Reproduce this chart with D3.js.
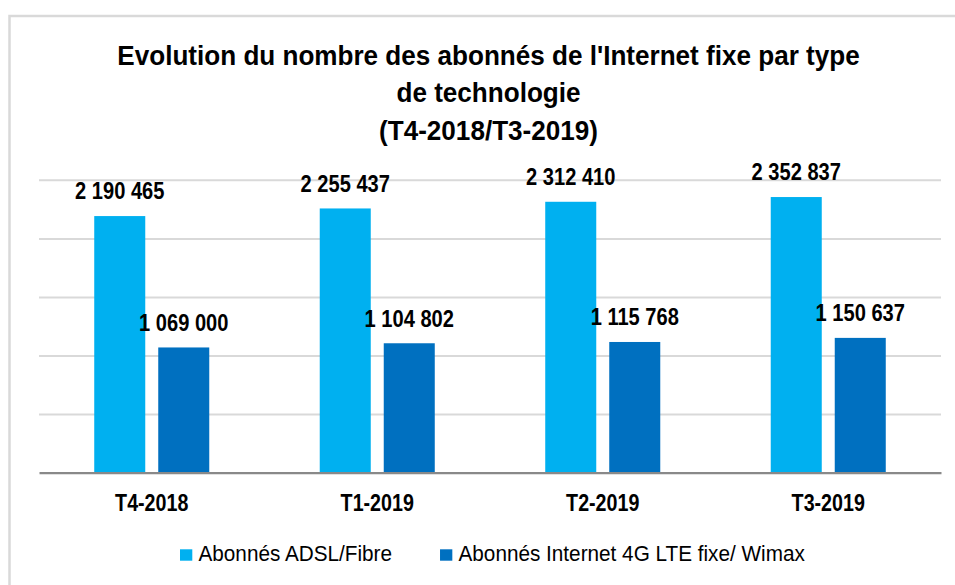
<!DOCTYPE html>
<html>
<head>
<meta charset="utf-8">
<script src="https://cdn.jsdelivr.net/npm/d3@7"></script>
<style>
  html, body { margin: 0; padding: 0; background: #fff; }
  svg { display: block; font-family: "Liberation Sans", Arial, sans-serif; }
</style>
</head>
<body>
<svg id="chart" width="955" height="585"></svg>
<script>
// ---- Data ----
const categories = ["T4-2018", "T1-2019", "T2-2019", "T3-2019"];
const seriesNames = ["Abonnés ADSL/Fibre", "Abonnés Internet 4G LTE fixe/ Wimax"];
const adslValues = [2190465, 2255437, 2312410, 2352837];
const lteValues = [1069000, 1104802, 1115768, 1150637];
const gridTicks = [0, 500000, 1000000, 1500000, 2000000, 2500000];
const titleLines = [
  "Evolution du nombre des abonnés de l'Internet fixe par type",
  "de technologie",
  "(T4-2018/T3-2019)"
];
const seriesColors = ["#00B0F0", "#0070C0"];

// ---- Layout ----
const W = 955, H = 585;
const plot = { left: 39, right: 941, top: 179.8, bottom: 472.7 };
const svg = d3.select("#chart");

svg.append("rect").attr("width", W).attr("height", H).attr("fill", "#fff");
// outer chart-area border (extends past the viewport on right/bottom)
svg.append("rect")
  .attr("x", 9.5).attr("y", 16).attr("width", 1000).attr("height", 700)
  .attr("fill", "none").attr("stroke", "#d9d9d9").attr("stroke-width", 2.5);

const fmt = d3.formatLocale({ decimal: ",", thousands: " ", grouping: [3], currency: ["", ""] }).format(",d");

const table = categories.map((c, i) => ({ cat: c, values: [adslValues[i], lteValues[i]] }));

const x0 = d3.scaleBand().domain(categories).range([plot.left, plot.right]).padding(0);
const x1 = d3.scaleBand().domain(d3.range(seriesNames.length))
  .range([0, x0.bandwidth()]).paddingInner(0.203).paddingOuter(0.863);
const y = d3.scaleLinear().domain([0, 2500000]).range([plot.bottom, plot.top]);

// gridlines
const grid = svg.append("g")
  .attr("transform", `translate(${plot.left},0)`)
  .call(d3.axisLeft(y).tickValues(gridTicks).tickSize(-(plot.right - plot.left)).tickFormat(""));
grid.select(".domain").remove();
grid.selectAll(".tick line").attr("stroke", "#d9d9d9").attr("stroke-width", 2);
grid.selectAll(".tick").filter(d => d === 0).remove();

// bars
const groups = svg.append("g").selectAll("g").data(table).join("g")
  .attr("transform", d => `translate(${x0(d.cat)},0)`);
groups.selectAll("rect").data(d => d.values.map((v, k) => ({ k, v }))).join("rect")
  .attr("x", d => x1(d.k))
  .attr("width", x1.bandwidth())
  .attr("y", d => y(d.v))
  .attr("height", d => y(0) - y(d.v))
  .attr("fill", d => seriesColors[d.k]);

// data labels
groups.selectAll("g.lbl").data(d => d.values.map((v, k) => ({ k, v }))).join("g")
  .attr("class", "lbl")
  .attr("transform", d => `translate(${x1(d.k) + x1.bandwidth() / 2},${y(d.v) - 16.7}) scale(0.82,1)`)
  .append("text")
  .attr("text-anchor", "middle")
  .attr("font-size", 24.5).attr("font-weight", "bold").attr("fill", "#000")
  .text(d => fmt(d.v));

// x axis
const xAxis = svg.append("g")
  .attr("transform", `translate(0,${plot.bottom})`)
  .call(d3.axisBottom(x0).tickSize(0));
xAxis.select(".domain").attr("stroke", "#898989").attr("stroke-width", 2.3);
xAxis.selectAll(".tick text")
  .attr("y", 38).attr("dy", 0)
  .attr("transform", "scale(0.82,1)")
  .attr("font-size", 24).attr("font-weight", "bold").attr("fill", "#000")
  .attr("font-family", "\"Liberation Sans\", Arial, sans-serif");

// title
const titleBaselines = [65, 102, 139.5];
svg.append("g").selectAll("g").data(titleLines).join("g")
  .attr("transform", (d, i) => `translate(488.5,${titleBaselines[i]}) scale(0.932,1)`)
  .append("text")
  .attr("text-anchor", "middle")
  .attr("font-size", 28).attr("font-weight", "bold").attr("fill", "#000")
  .text(d => d);

// legend
const legend = svg.append("g");
let lx = 180;
const legendScale = 0.93;
seriesNames.forEach((name, k) => {
  legend.append("rect")
    .attr("x", lx).attr("y", 549.3).attr("width", 12.3).attr("height", 11.4)
    .attr("fill", seriesColors[k]);
  const g = legend.append("g").attr("transform", `translate(${lx + 18.5},561) scale(${legendScale},1)`);
  const t = g.append("text").attr("font-size", 22.3).attr("fill", "#000").text(name);
  const tw = t.node().getComputedTextLength() * legendScale;
  lx += 18.5 + tw + 48;
});
</script>
</body>
</html>
